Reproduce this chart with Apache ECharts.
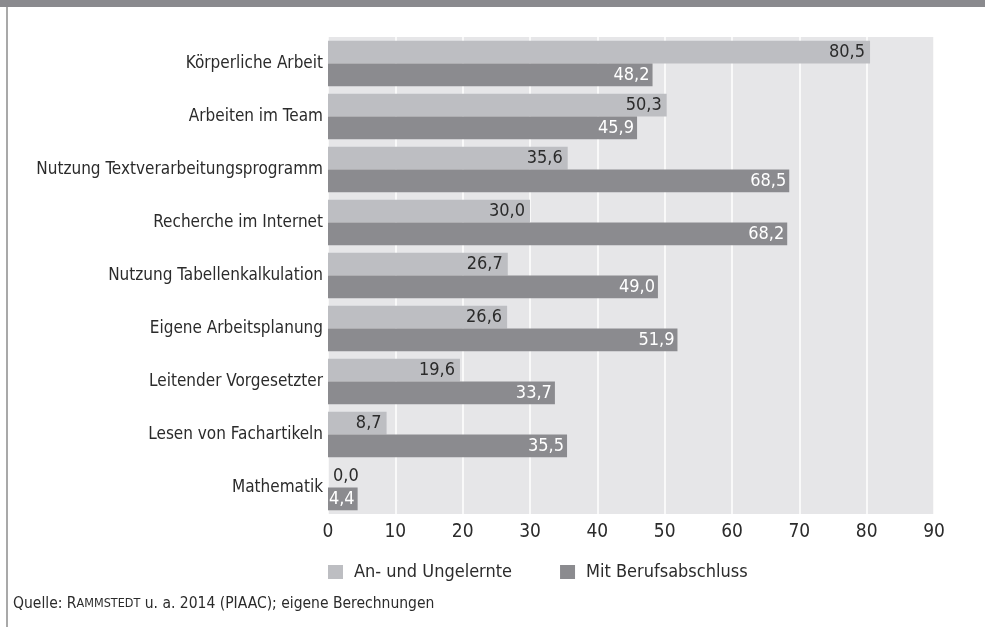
<!DOCTYPE html>
<html>
<head>
<meta charset="utf-8">
<script src="https://cdn.jsdelivr.net/npm/echarts@6/dist/echarts.min.js"></script>
<style>
  html, body { margin: 0; padding: 0; background: #fff; }
  #chart { width: 985px; height: 627px; }
</style>
</head>
<body>
<div id="chart"></div>
<script>
// Data
const categories = [
    'Körperliche Arbeit',
    'Arbeiten im Team',
    'Nutzung Textverarbeitungsprogramm',
    'Recherche im Internet',
    'Nutzung Tabellenkalkulation',
    'Eigene Arbeitsplanung',
    'Leitender Vorgesetzter',
    'Lesen von Fachartikeln',
    'Mathematik'
];
const seriesNames = ['An- und Ungelernte', 'Mit Berufsabschluss'];
const ungelernte = [80.5, 50.3, 35.6, 30.0, 26.7, 26.6, 19.6, 8.7, 0.0];
const berufsabschluss = [48.2, 45.9, 68.5, 68.2, 49.0, 51.9, 33.7, 35.5, 4.4];
const xTicks = [0, 10, 20, 30, 40, 50, 60, 70, 80, 90];

const FONT = '"Liberation Sans Narrow", "DejaVu Sans Condensed", sans-serif';
const TEXT = '#2b2b2b';

// comma as decimal separator
function fmt(v) {
    return v.toFixed(1).replace('.', ',');
}

// bars with zero length get their label outside
function toBarData(values) {
    return values.map(v => ({
        value: v,
        label: v === 0 ? { position: 'right', distance: 5 } : undefined
    }));
}

const chart = echarts.init(document.getElementById('chart'), null, { renderer: 'canvas' });

chart.setOption({
    animation: false,
    backgroundColor: '#fff',
    grid: {
        left: 328, top: 37, width: 606, height: 477,
        show: true,
        backgroundColor: '#e6e6e8',
        borderWidth: 0
    },
    xAxis: {
        type: 'value',
        min: xTicks[0],
        max: xTicks[xTicks.length - 1],
        interval: 10,
        axisLine: { show: false },
        axisTick: { show: false },
        axisLabel: {
            fontFamily: FONT, fontSize: 19, color: TEXT, margin: 9,
            formatter: v => xTicks.includes(v) ? String(v) : ''
        },
        splitLine: { show: true, lineStyle: { color: '#ffffff', width: 1.5 } }
    },
    yAxis: {
        type: 'category',
        data: categories,
        inverse: true,
        axisLine: { show: false },
        axisTick: { show: false },
        axisLabel: { fontFamily: FONT, fontSize: 17, color: TEXT, margin: 5, padding: [12, 0, 0, 0] }
    },
    legend: {
        left: 328, top: 563, padding: 0,
        itemWidth: 15, itemHeight: 14, itemGap: 48,
        icon: 'rect',
        textStyle: { fontFamily: FONT, fontSize: 18, color: TEXT, padding: [0, 0, 0, 6] },
        data: seriesNames
    },
    series: [
        {
            name: seriesNames[0],
            type: 'bar',
            data: toBarData(ungelernte),
            barGap: '0%',
            barCategoryGap: '14%',
            itemStyle: { color: '#bdbec2' },
            label: {
                show: true, position: 'insideRight', distance: 5,
                fontFamily: FONT, fontSize: 18, color: TEXT,
                formatter: p => fmt(p.value)
            }
        },
        {
            name: seriesNames[1],
            type: 'bar',
            data: toBarData(berufsabschluss),
            barGap: '0%',
            barCategoryGap: '14%',
            itemStyle: { color: '#8b8b8f' },
            label: {
                show: true, position: 'insideRight', distance: 3,
                fontFamily: FONT, fontSize: 18, color: '#ffffff',
                formatter: p => fmt(p.value)
            }
        }
    ],
    graphic: [
        // top band
        { type: 'rect', shape: { x: 0, y: 0, width: 985, height: 7 }, style: { fill: '#8a8a8e' }, silent: true },
        // left rule
        { type: 'rect', shape: { x: 6, y: 7, width: 2, height: 620 }, style: { fill: '#a9a9a9' }, silent: true },
        // source
        {
            type: 'text', left: 13, top: 596,
            style: {
                text: '{n|Quelle: R}{s|AMMSTEDT}{n| u. a. 2014 (PIAAC); eigene Berechnungen}',
                rich: {
                    n: { fontFamily: FONT, fontSize: 15.5, fill: TEXT },
                    s: { fontFamily: FONT, fontSize: 12.5, fill: TEXT }
                }
            }
        }
    ]
});
</script>
</body>
</html>
